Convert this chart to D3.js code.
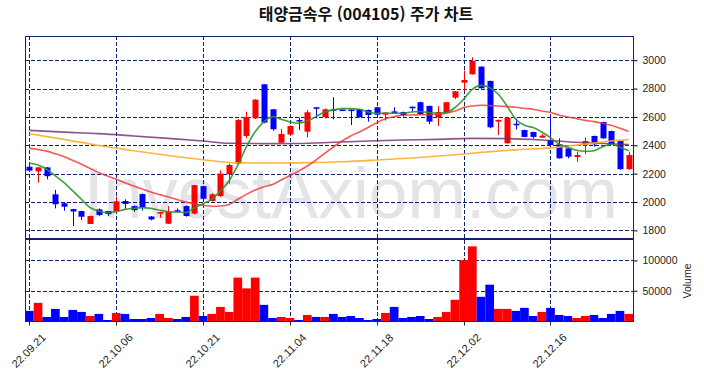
<!DOCTYPE html>
<html lang='ko'>
<head>
<meta charset='UTF-8'/>
<title>태양금속우 주가 차트</title>
<script src='https://cdn.jsdelivr.net/npm/d3@7'></script>
<style>
  body {margin: 0; background: #fff;}
  svg text {font-family: 'Liberation Sans', Arial, sans-serif;}
</style>
</head>
<body>
<div class='chart'></div>
<script>
  var width = 704, height = 378;

  // trading days 2022.09.21 - 2022.12.29
  const dates = ['22.09.21','22.09.22','22.09.23','22.09.26','22.09.27','22.09.28','22.09.29','22.09.30',
    '22.10.04','22.10.05','22.10.06','22.10.07','22.10.11','22.10.12','22.10.13','22.10.14','22.10.17','22.10.18',
    '22.10.19','22.10.20','22.10.21','22.10.24','22.10.25','22.10.26','22.10.27','22.10.28','22.10.31',
    '22.11.01','22.11.02','22.11.03','22.11.04','22.11.07','22.11.08','22.11.09','22.11.10','22.11.11',
    '22.11.14','22.11.15','22.11.16','22.11.17','22.11.18','22.11.21','22.11.22','22.11.23','22.11.24',
    '22.11.25','22.11.28','22.11.29','22.11.30','22.12.01','22.12.02','22.12.05','22.12.06','22.12.07',
    '22.12.08','22.12.09','22.12.12','22.12.13','22.12.14','22.12.15','22.12.16','22.12.19','22.12.20',
    '22.12.21','22.12.22','22.12.23','22.12.26','22.12.27','22.12.28','22.12.29'];
  const tickDates = ['22.09.21','22.10.06','22.10.21','22.11.04','22.11.18','22.12.02','22.12.16'];

  const open  = [2249,2216,2244,2054,1991,1950,1936,1845,1948,1936, 1936,2007,1971,2056,1898,1918,1847,1942,1971,1918,
                 2112,2007,2042,2195,2270,2466,2590,2830,2654,2418, 2476,2578,2496,2668,2598,2654,2652,2652,2654,2649,
                 2668,2616,2639,2635,2672,2704,2678,2598,2631,2736, 2842,2901,2955,2854,2567,2414,2552,2508,2494,2454,
                 2437,2407,2378,2317,2402,2466,2564,2501,2430,2231];
  const high  = [2256,2247,2247,2085,1995,1952,1938,1903,1955,1938, 2037,2019,1975,2060,1900,1932,1971,1955,1975,2121,
                 2115,2062,2223,2270,2585,2637,2725,2832,2656,2515, 2540,2595,2649,2670,2660,2739,2655,2654,2656,2652,
                 2672,2633,2668,2637,2674,2708,2680,2677,2706,2783, 2927,3021,2957,2856,2581,2597,2590,2510,2496,2480,
                 2602,2449,2380,2355,2456,2468,2566,2503,2432,2355];
  const low   = [2215,2136,2160,1955,1938,1830,1873,1845,1900,1901, 1930,1953,1931,1940,1871,1889,1845,1925,1897,1912,
                 2018,2002,2035,2130,2265,2450,2585,2555,2503,2416, 2465,2508,2456,2590,2590,2583,2645,2543,2596,2567,
                 2614,2574,2624,2602,2637,2616,2550,2536,2629,2725, 2785,2899,2800,2520,2473,2412,2511,2457,2448,2454,
                 2400,2306,2308,2284,2338,2390,2447,2405,2229,2229];
  const close = [2221,2244,2182,1984,1967,1933,1896,1901,1908,1915, 2005,1986,1943,1962,1877,1929,1929,1938,1901,2119,
                 2023,2054,2200,2261,2578,2600,2722,2560,2513,2480, 2536,2572,2633,2660,2654,2645,2648,2646,2598,2614,
                 2616,2631,2635,2612,2669,2621,2567,2635,2704,2781, 2861,2995,2802,2527,2579,2595,2546,2459,2459,2468,
                 2402,2308,2320,2331,2430,2407,2449,2407,2231,2331];
  const volume = [16700,30000,6700,20000,6700,18300,15000,8300,11700,1700, 13300,11700,3300,3300,5000,11700,5000,3300,6700,41700,
                  8300,11700,23300,15000,71700,53900,71700,26700,5000,6700, 5000,1700,10000,6700,6700,11700,6700,8300,5000,1700,
                  3300,13300,23300,5000,6700,8300,3300,6700,15000,35000, 100600,123300,40000,60000,20000,20000,16700,21700,8300,15000,
                  21700,10000,8300,5000,8300,10000,5000,11700,16700,11700];

  // moving averages
  const ma5  = [2273,2261,2231,2184,2137,2078,2019,1960,1936,1925, 1932,1948,1955,1960,1955,1943,1932,1929,1925,1960,
                1988,2019,2078,2150,2260,2390,2495,2565,2602,2584, 2565,2555,2572,2602,2635,2649,2659,2659,2654,2635,
                2626,2626,2626,2626,2635,2638,2631,2626,2631,2666, 2725,2795,2823,2807,2760,2677,2584,2541,2525,2494,
                2454,2407,2384,2365,2358,2362,2390,2407,2386,2362];
  const ma20 = [2378,2370,2359,2340,2319,2293,2266,2236,2207,2183, 2160,2136,2113,2091,2070,2052,2035,2017,2000,1987,
                1976,1970,1972,1983,2019,2054,2084,2108,2124,2155, 2187,2218,2254,2296,2343,2388,2430,2466,2494,2525,
                2560,2588,2602,2612,2614,2616,2616,2619,2626,2642, 2666,2677,2682,2680,2677,2673,2668,2661,2654,2642,
                2631,2614,2600,2588,2576,2567,2555,2541,2520,2497];
  const ma60Idx = [0,4,8,12,16,20,24,28,32,36,40,44,48,52,56,60,64,67,69];
  const ma60    = [2482,2442,2398,2362,2328,2298,2276,2275,2278,2284,2296,2310,2328,2350,2368,2382,2408,2430,2440];
  const ma120Idx = [0,4,8,12,16,20,23,27,31,35,39,43,47,51,55,59,63,69];
  const ma120    = [2505,2493,2482,2466,2449,2430,2414,2412,2413,2421,2430,2437,2442,2449,2447,2437,2421,2405];

  const priceTicks = [1800,2000,2200,2400,2600,2800,3000];
  const volTicks = [50000,100000];

  var svg = d3.select('.chart').append('svg')
    .attr('width', width).attr('height', height);

  var plot = {left: 25, right: 633, top: 36, mid: 239, bottom: 321};
  var grid = '#0f2466';

  var x = d3.scaleBand().domain(dates).range([plot.left, plot.right]).padding(0);
  var cx = d => x(d) + x.bandwidth() / 2;
  var y = d3.scaleLinear().domain([1739, 3171]).range([plot.mid, plot.top]);
  var yv = d3.scaleLinear().domain([0, 135500]).range([plot.bottom, plot.mid]);

  // title
  svg.append('text')
    .text('태양금속우 (004105) 주가 차트')
    .attr('x', 366).attr('y', 20)
    .attr('text-anchor', 'middle')
    .style('font-family', "'Noto Sans CJK KR', sans-serif")
    .style('font-size', '16px')
    .style('font-weight', 'bold')
    .style('fill', '#111');

  // watermark
  svg.append('text')
    .text('InvestAxiom.com')
    .attr('x', 84).attr('y', 218)
    .attr('textLength', 534)
    .attr('lengthAdjust', 'spacingAndGlyphs')
    .style('font-size', '72px')
    .style('fill', '#e4e4e8');

  // grid
  var gridG = svg.append('g')
    .attr('stroke', grid).attr('stroke-width', 1).attr('stroke-dasharray', '4,2');
  priceTicks.forEach(t => gridG.append('line')
    .attr('x1', plot.left).attr('x2', plot.right)
    .attr('y1', Math.round(y(t)) + 0.5).attr('y2', Math.round(y(t)) + 0.5));
  volTicks.forEach(t => gridG.append('line')
    .attr('x1', plot.left).attr('x2', plot.right)
    .attr('y1', Math.round(yv(t)) + 0.5).attr('y2', Math.round(yv(t)) + 0.5));
  tickDates.forEach(d => {
    var xx = Math.round(cx(d)) + 0.5;
    gridG.append('line').attr('x1', xx).attr('x2', xx).attr('y1', plot.top).attr('y2', plot.bottom);
  });

  var idx = d3.range(dates.length);
  var col = i => close[i] >= open[i] ? '#ff0000' : '#0000ff';

  // volume bars
  svg.append('g').selectAll('rect')
    .data(idx).enter().append('rect')
    .attr('x', i => x(dates[i]))
    .attr('width', x.bandwidth())
    .attr('y', i => yv(volume[i]))
    .attr('height', i => yv(0) - yv(volume[i]))
    .attr('fill', col);

  // candles
  var cg = svg.append('g');
  cg.selectAll('line')
    .data(idx).enter().append('line')
    .attr('x1', i => Math.round(cx(dates[i])) + 0.5)
    .attr('x2', i => Math.round(cx(dates[i])) + 0.5)
    .attr('y1', i => y(high[i])).attr('y2', i => y(low[i]))
    .attr('stroke', col).attr('stroke-width', 1);
  var bw = 6;
  cg.selectAll('rect')
    .data(idx).enter().append('rect')
    .attr('x', i => Math.round(cx(dates[i])) + 0.5 - bw / 2)
    .attr('width', bw)
    .attr('y', i => y(Math.max(open[i], close[i])))
    .attr('height', i => Math.max(1.5, Math.abs(y(open[i]) - y(close[i]))))
    .attr('fill', col);

  // moving averages
  var line = d3.line().x(d => cx(dates[d[0]])).y(d => y(d[1])).curve(d3.curveMonotoneX);
  function drawMa(ix, vals, color, op) {
    svg.append('path')
      .attr('d', line(ix.map((k, j) => [k, vals[j]])))
      .attr('fill', 'none')
      .attr('stroke', color)
      .attr('stroke-width', 1.6)
      .attr('opacity', op);
  }
  drawMa(ma120Idx, ma120, '#6e2a6e', 0.8);
  drawMa(ma60Idx, ma60, '#ffad2a', 0.9);
  drawMa(idx, ma20, '#f03030', 0.8);
  drawMa(idx, ma5, '#2e922e', 0.9);

  // panel borders
  svg.append('rect')
    .attr('x', plot.left + 0.5).attr('y', plot.top + 0.5)
    .attr('width', plot.right - plot.left).attr('height', plot.mid - plot.top - 1)
    .attr('fill', 'none').attr('stroke', grid);
  svg.append('rect')
    .attr('x', plot.left + 0.5).attr('y', plot.mid + 0.5)
    .attr('width', plot.right - plot.left).attr('height', plot.bottom - plot.mid)
    .attr('fill', 'none').attr('stroke', grid);

  // right axes
  svg.append('g')
    .attr('transform', 'translate(' + (plot.right + 0.5) + ',0)')
    .call(d3.axisRight(y).tickValues(priceTicks).tickFormat(d3.format('d')).tickSize(4).tickPadding(5))
    .call(g => g.select('.domain').remove())
    .call(g => g.selectAll('text').style('font-size', '10.5px').style('fill', '#222'));
  svg.append('g')
    .attr('transform', 'translate(' + (plot.right + 0.5) + ',0)')
    .call(d3.axisRight(yv).tickValues(volTicks).tickFormat(d3.format('d')).tickSize(4).tickPadding(5))
    .call(g => g.select('.domain').remove())
    .call(g => g.selectAll('text').style('font-size', '10.5px').style('fill', '#222'));
  svg.append('text')
    .text('Volume')
    .attr('transform', 'translate(691,281) rotate(-90)')
    .attr('text-anchor', 'middle')
    .style('font-size', '10.5px').style('fill', '#222');

  // bottom axis
  var xa = svg.append('g')
    .attr('transform', 'translate(0,' + (plot.bottom + 0.5) + ')');
  tickDates.forEach(d => {
    var xx = Math.round(cx(d)) + 0.5;
    xa.append('line').attr('x1', xx).attr('x2', xx).attr('y1', 0).attr('y2', 4).attr('stroke', '#222');
    xa.append('text').text(d)
      .attr('transform', 'translate(' + (xx - 1) + ',29) rotate(-45)')
      .attr('text-anchor', 'middle')
      .attr('dominant-baseline', 'central')
      .style('font-size', '11px').style('fill', '#222');
  });
</script>
</body>
</html>
